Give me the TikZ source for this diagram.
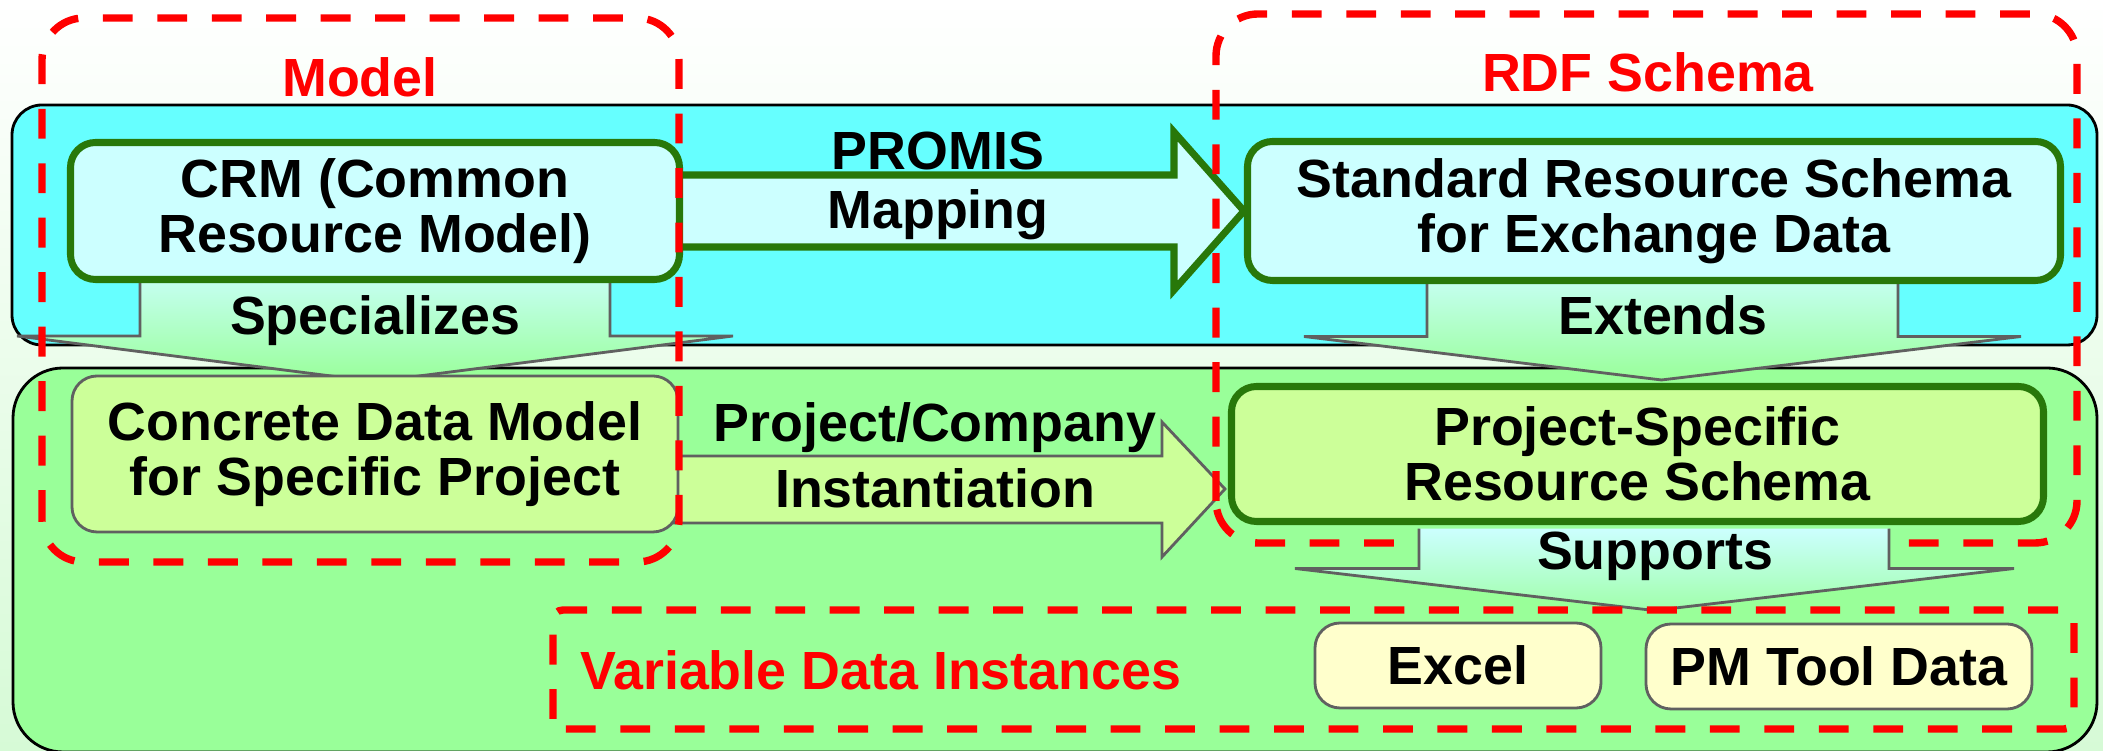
\documentclass[tikz,border=0pt]{standalone}
\usepackage{fontspec}
\setmainfont{Liberation Sans}
\usetikzlibrary{calc}
\pgfdeclarelayer{back}
\pgfdeclarelayer{mid}
\pgfdeclarelayer{front}
\pgfsetlayers{back,mid,main,front}

\definecolor{bandcyan}{HTML}{66FFFF}
\definecolor{bandgreen}{HTML}{99FF99}
\definecolor{palecyan}{HTML}{CCFFFF}
\definecolor{palelime}{HTML}{CCFF99}
\definecolor{paleyellow}{HTML}{FFFFCC}
\definecolor{leafgreen}{RGB}{40,120,10}
\definecolor{edgegray}{HTML}{606060}
\definecolor{bgbottom}{RGB}{214,250,214}
\definecolor{tipgreen}{RGB}{160,255,170}

\begin{document}
\begin{tikzpicture}[font=\fontsize{15.3}{15.6}\selectfont\bfseries,
    band/.style={draw=black, line width=0.8pt},
    greenbox/.style={draw=leafgreen, line width=2pt, rounded corners=0.25cm, align=center, inner sep=0pt},
    greybox/.style={draw=edgegray, line width=0.8pt, rounded corners=0.25cm, align=center, inner sep=0pt},
    fatarrow/.style={draw=edgegray, line width=0.8pt, line join=miter},
    redframe/.style={draw=red, line width=2.1pt, dash pattern=on 8.5pt off 7pt},
    redlabel/.style={text=red, anchor=base}]
\useasboundingbox (0,0) rectangle (21.03,7.51);

% boxes
\node[greenbox, fill=palecyan, minimum width=6.09cm, minimum height=1.37cm] (crm) at (3.75,5.40) {CRM (Common\\Resource Model)};
\node[greenbox, fill=palecyan, minimum width=8.13cm, minimum height=1.39cm] (std) at (16.54,5.40) {Standard Resource Schema\\for Exchange Data};
\node[greybox, fill=palelime, minimum width=6.06cm, minimum height=1.56cm] (cdm) at (3.75,2.97) {Concrete Data Model\\for Specific Project};
\node[greenbox, fill=palelime, minimum width=8.12cm, minimum height=1.35cm] (pss) at (16.375,2.97) {Project-Specific\\Resource Schema};
\node[greybox, fill=paleyellow, minimum width=2.86cm, minimum height=0.85cm] (excel) at (14.58,0.855) {Excel};
\node[greybox, fill=paleyellow, minimum width=3.86cm, minimum height=0.85cm] (pmtool) at (18.39,0.845) {PM Tool Data};

% labels
\node[anchor=base] (spec) at (3.75,4.16) {Specializes};
\node[anchor=base] (ext) at (16.63,4.16) {Extends};
\node[align=center, font=\fontsize{15.3}{17}\selectfont\bfseries] (promis) at (9.38,5.65) {PROMIS\\Mapping};
\node[align=center, font=\fontsize{15.3}{18.8}\selectfont\bfseries] (inst) at (9.35,2.955) {Project/Company\\Instantiation};
\node[redlabel] (model) at (3.60,6.54) {Model};
\node[redlabel] (rdf) at (16.48,6.59) {RDF Schema};

\begin{pgfonlayer}{back}
\shade[top color=white, bottom color=bgbottom] (0,0) rectangle (21.03,7.51);
\filldraw[band, fill=bandcyan, rounded corners=0.3cm] (0.12,4.06) rectangle (20.97,6.46);
\filldraw[band, fill=bandgreen, rounded corners=0.5cm] (0.13,-0.01) rectangle (20.97,3.83);
\end{pgfonlayer}

\begin{pgfonlayer}{mid}
% PROMIS mapping
\filldraw[fill=palecyan, draw=leafgreen, line width=2pt, line join=miter]
  ($(crm.east)+(-0.1,0.36)$) -- (11.74,5.76) -- (11.74,6.19) -- (std.west)
  -- (11.74,4.61) -- (11.74,5.04) -- ($(crm.east)+(-0.1,-0.36)$) -- cycle;
% instantiation
\filldraw[fatarrow, fill=palelime]
  ($(cdm.east)+(-0.1,-0.02)$) -- (11.62,2.95) -- (11.62,3.29) -- ($(pss.west)+(-0.03,-0.35)$)
  -- (11.62,1.94) -- (11.62,2.28) -- ($(cdm.east)+(-0.1,-0.69)$) -- cycle;
% specializes
\shadedraw[fatarrow, top color=palecyan, bottom color=bandgreen]
  ($(crm.south)+(-2.35,0.2)$) -- ($(crm.south)+(-2.35,-0.53)$) -- ($(crm.south)+(-3.58,-0.53)$)
  -- ($(cdm.north)+(0,-0.07)$) -- ($(crm.south)+(3.58,-0.53)$) -- ($(crm.south)+(2.35,-0.53)$)
  -- ($(crm.south)+(2.35,0.2)$) -- cycle;
% extends
\shadedraw[fatarrow, top color=palecyan, bottom color=bandgreen]
  ($(std.south)+(-2.27,0.2)$) -- ($(std.south)+(-2.27,-0.525)$) -- ($(std.south)+(-3.5,-0.525)$)
  -- ($(pss.north)+(0.24,0.03)$) -- ($(std.south)+(3.67,-0.525)$) -- ($(std.south)+(2.44,-0.525)$)
  -- ($(std.south)+(2.44,0.2)$) -- cycle;
\end{pgfonlayer}

\begin{pgfonlayer}{front}
\draw[redframe, rounded corners=0.42cm] (0.42,1.89) rectangle (6.79,7.33);
\draw[redframe, rounded corners=0.42cm] (12.16,2.08) rectangle (20.77,7.37);
% supports
\shade[top color=palecyan, bottom color=tipgreen]
  ($(pss.south)+(-2.185,-0.035)$) -- ($(pss.south)+(-2.185,-0.435)$) -- ($(pss.south)+(-3.425,-0.435)$)
  -- ($(pss.south)+(0.165,-0.855)$) -- ($(pss.south)+(3.765,-0.435)$) -- ($(pss.south)+(2.515,-0.435)$)
  -- ($(pss.south)+(2.515,-0.035)$) -- cycle;
\draw[fatarrow]
  ($(pss.south)+(-2.185,-0.035)$) -- ($(pss.south)+(-2.185,-0.435)$) -- ($(pss.south)+(-3.425,-0.435)$)
  -- ($(pss.south)+(0.165,-0.855)$) -- ($(pss.south)+(3.765,-0.435)$) -- ($(pss.south)+(2.515,-0.435)$)
  -- ($(pss.south)+(2.515,-0.035)$);
\node[anchor=base] (sup) at (16.55,1.81) {Supports};
\draw[redframe, rounded corners=0.1cm] (5.53,0.22) rectangle (20.74,1.41);
\node[redlabel, anchor=base west] (vdi) at (5.68,0.61) {Variable Data Instances};
\end{pgfonlayer}
\end{tikzpicture}
\end{document}
